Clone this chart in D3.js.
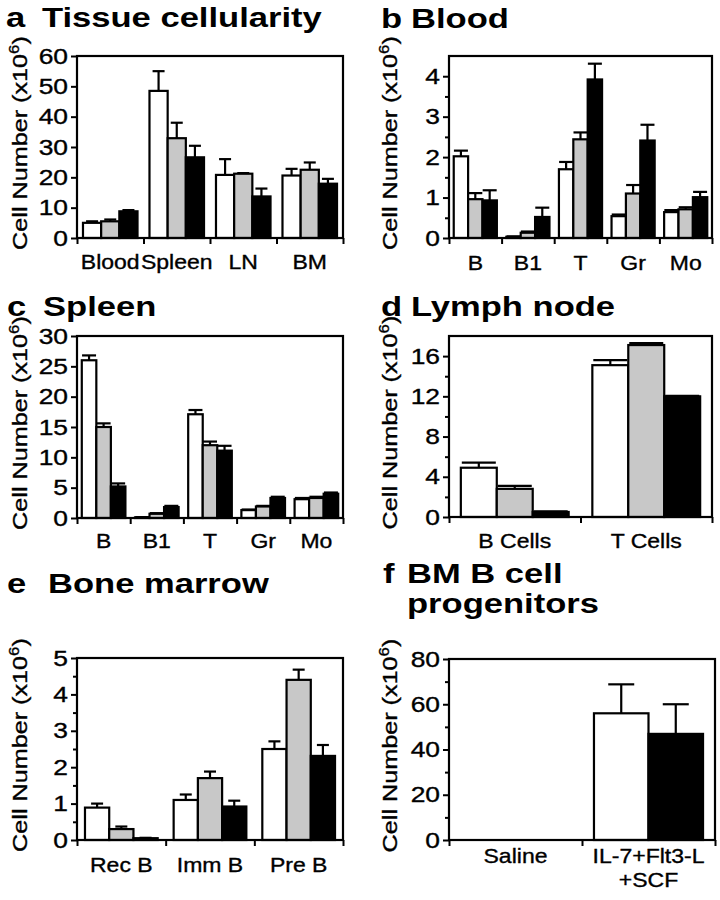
<!DOCTYPE html>
<html>
<head>
<meta charset="utf-8">
<script src="https://cdn.jsdelivr.net/npm/d3@7"></script>
<style>
  html, body { margin: 0; padding: 0; background: #fff; }
  svg { display: block; font-family: "Liberation Sans", Arial, Helvetica, sans-serif; }
  .thick { stroke: #000; stroke-width: 0.35px; }
</style>
</head>
<body>
<div id="app"></div>
<script>
// --- data (mean, upward SEM) ---
// series order: white, gray, black
const tissueCats = ["Blood", "Spleen", "LN", "BM"];
const tissueMean = [[5.0, 5.5, 8.8], [48.5, 32.9, 26.6], [20.8, 21.2, 13.7], [20.6, 22.5, 17.9]];
const tissueErr  = [[0.5, 0.6, 0.4], [6.5, 5.1, 3.8], [5.2, 0.2, 2.6], [2.2, 2.4, 1.6]];
const tissueTicks = [0, 10, 20, 30, 40, 50, 60];

const bloodCats = ["B", "B1", "T", "Gr", "Mo"];
const bloodMean = [[2.02, 0.96, 0.93], [0.03, 0.13, 0.52], [1.70, 2.44, 3.92], [0.54, 1.10, 2.41], [0.64, 0.71, 1.01]];
const bloodErr  = [[0.14, 0.15, 0.25], [0.01, 0.03, 0.23], [0.18, 0.17, 0.39], [0.04, 0.21, 0.39], [0.05, 0.05, 0.13]];
const bloodTicks = [0, 1, 2, 3, 4];
const bloodMinor = [0.5, 1.5, 2.5, 3.5];

const spleenCats = ["B", "B1", "T", "Gr", "Mo"];
const spleenMean = [[26.0, 15.0, 5.2], [0.1, 0.7, 1.8], [17.1, 12.0, 11.1], [1.3, 1.9, 3.3], [3.1, 3.3, 4.0]];
const spleenErr  = [[0.8, 0.6, 0.5], [0.05, 0.1, 0.2], [0.7, 0.6, 0.8], [0.1, 0.1, 0.2], [0.2, 0.2, 0.2]];
const spleenTicks = [0, 5, 10, 15, 20, 25, 30];

const lymphCats = ["B Cells", "T Cells"];
const lymphMean = [[4.9, 2.8, 0.5], [15.1, 17.1, 12.0]];
const lymphErr  = [[0.5, 0.3, 0.05], [0.5, 0.2, 0.05]];
const lymphTicks = [0, 4, 8, 12, 16];
const lymphMinor = [2, 6, 10, 14];

const marrowCats = ["Rec B", "Imm B", "Pre B"];
const marrowMean = [[0.89, 0.30, 0.05], [1.10, 1.70, 0.92], [2.50, 4.40, 2.31]];
const marrowErr  = [[0.11, 0.07, 0.01], [0.15, 0.18, 0.16], [0.21, 0.28, 0.30]];
const marrowTicks = [0, 1, 2, 3, 4, 5];
const marrowMinor = [0.5, 1.5, 2.5, 3.5, 4.5];

// panel f only has the white and black groups
const progCats = [["Saline"], ["IL-7+Flt3-L", "+SCF"]];
const progMean = [[null, null], [56.0, 46.9]];
const progErr  = [[null, null], [12.8, 13.1]];
const progTicks = [0, 20, 40, 60, 80];
const progMinor = [10, 30, 50, 70];

const width = 720;
const height = 900;
const fills = ["#ffffff", "#c8c8c8", "#000000"];

const svg = d3.select('#app')
  .append('svg')
  .attr('width', width)
  .attr('height', height)
  .attr('viewBox', `0 0 ${width} ${height}`);

const panels = [
  { letter: "a", title: ["Tissue cellularity"], cats: tissueCats.map(d => [d]), mean: tissueMean, err: tissueErr,
    max: 60, ticks: tissueTicks, minor: [], fills: [0, 1, 2],
    x0: 77, x1: 343, y0: 56, y1: 238, lx: 6, tx: 42, ty: 27, labY: 269, cap: 12, ylx: 27 },
  { letter: "b", title: ["Blood"], cats: bloodCats.map(d => [d]), mean: bloodMean, err: bloodErr,
    max: 4.5, ticks: bloodTicks, minor: bloodMinor, fills: [0, 1, 2],
    x0: 449, x1: 712, y0: 56, y1: 238, lx: 381, tx: 411, ty: 28, labY: 270, cap: 14, ylx: 397 },
  { letter: "c", title: ["Spleen"], cats: spleenCats.map(d => [d]), mean: spleenMean, err: spleenErr,
    max: 30, ticks: spleenTicks, minor: [], fills: [0, 1, 2],
    x0: 77, x1: 343, y0: 336, y1: 518, lx: 7, tx: 43, ty: 316, labY: 548, cap: 14, ylx: 27 },
  { letter: "d", title: ["Lymph node"], cats: lymphCats.map(d => [d]), mean: lymphMean, err: lymphErr,
    max: 18, ticks: lymphTicks, minor: lymphMinor, fills: [0, 1, 2],
    x0: 449, x1: 712, y0: 336, y1: 517, lx: 381, tx: 411, ty: 316, labY: 548, cap: 34, ylx: 397 },
  { letter: "e", title: ["Bone marrow"], cats: marrowCats.map(d => [d]), mean: marrowMean, err: marrowErr,
    max: 5, ticks: marrowTicks, minor: marrowMinor, fills: [0, 1, 2],
    x0: 77, x1: 343, y0: 658, y1: 840, lx: 7, tx: 48, ty: 593, labY: 872, cap: 12, ylx: 27 },
  { letter: "f", title: ["BM B cell", "progenitors"], cats: progCats, mean: progMean, err: progErr,
    max: 80, ticks: progTicks, minor: progMinor, fills: [0, 2],
    x0: 449, x1: 715, y0: 659, y1: 840, lx: 383, tx: 407, ty: 583, labY: 863, cap: 26, ylx: 397 }
];

const TITLE_SX = 1.28, TICK_SX = 1.2, LAB_SX = 1.15, YLAB_SX = 1.2;

function drawPanel(p) {
  const g = svg.append('g');

  // title
  g.append('text')
    .attr('transform', `translate(${p.lx},${p.ty}) scale(${TITLE_SX},1)`)
    .attr('font-size', 27).attr('font-weight', 'bold')
    .text(p.letter);
  p.title.forEach((t, i) => {
    g.append('text')
      .attr('transform', `translate(${p.tx},${p.ty + i * 30}) scale(${TITLE_SX},1)`)
      .attr('font-size', 27).attr('font-weight', 'bold')
      .text(t);
  });

  const y = d3.scaleLinear().domain([0, p.max]).range([p.y1, p.y0]);
  const xb = d3.scaleBand().domain(d3.range(p.cats.length)).range([p.x0, p.x1]).padding(0);
  const inner = d3.scaleBand().domain(d3.range(p.fills.length))
    .range([0, xb.bandwidth()]).paddingInner(0).paddingOuter(0.09 * p.fills.length / (1 - 0.18));

  // bars
  p.mean.forEach((row, ci) => {
    row.forEach((v, si) => {
      if (v == null) return;
      const bx = xb(ci) + inner(si);
      g.append('rect')
        .attr('x', bx).attr('y', y(v))
        .attr('width', inner.bandwidth()).attr('height', y(0) - y(v))
        .attr('fill', fills[p.fills[si]])
        .attr('stroke', '#000').attr('stroke-width', 2.2);
    });
  });

  // error bars (upward only)
  p.err.forEach((row, ci) => {
    row.forEach((e, si) => {
      const v = p.mean[ci][si];
      if (e == null || v == null) return;
      const cx = xb(ci) + inner(si) + inner.bandwidth() / 2;
      const top = y(v + e);
      g.append('line').attr('x1', cx).attr('x2', cx).attr('y1', y(v)).attr('y2', top)
        .attr('stroke', '#000').attr('stroke-width', 2.2);
      g.append('line').attr('x1', cx - p.cap / 2).attr('x2', cx + p.cap / 2).attr('y1', top).attr('y2', top)
        .attr('stroke', '#000').attr('stroke-width', 2.2);
    });
  });

  // frame
  g.append('rect')
    .attr('x', p.x0).attr('y', p.y0)
    .attr('width', p.x1 - p.x0).attr('height', p.y1 - p.y0)
    .attr('fill', 'none').attr('stroke', '#000').attr('stroke-width', 2.2);

  // y axis
  const ya = g.append('g').attr('transform', `translate(${p.x0},0)`)
    .call(d3.axisLeft(y).tickValues(p.ticks).tickSize(6).tickPadding(3).tickFormat(d3.format('')));
  ya.select('.domain').remove();
  ya.attr('font-size', 22).attr('font-family', null);
  ya.selectAll('.tick line').attr('stroke-width', 2);
  ya.selectAll('.tick text').attr('x', -9 / TICK_SX).attr('transform', `scale(${TICK_SX},1)`)
    .attr('fill', '#000').attr('class', 'thick');

  if (p.minor.length) {
    const ym = g.append('g').attr('transform', `translate(${p.x0},0)`)
      .call(d3.axisLeft(y).tickValues(p.minor).tickSize(4).tickFormat(''));
    ym.select('.domain').remove();
    ym.selectAll('.tick line').attr('stroke-width', 2);
  }

  // x axis: ticks at group boundaries
  const xl = d3.scaleLinear().domain([0, p.cats.length]).range([p.x0, p.x1]);
  const xa = g.append('g').attr('transform', `translate(0,${p.y1})`)
    .call(d3.axisBottom(xl).tickValues(d3.range(p.cats.length + 1)).tickSize(6).tickFormat(''));
  xa.select('.domain').remove();
  xa.selectAll('.tick line').attr('stroke-width', 2);

  // category labels
  p.cats.forEach((lines, ci) => {
    const cx = xb(ci) + xb.bandwidth() / 2;
    lines.forEach((t, li) => {
      g.append('text')
        .attr('class', 'thick')
        .attr('transform', `translate(${cx},${p.labY + li * 24}) scale(${LAB_SX},1)`)
        .attr('text-anchor', 'middle').attr('font-size', 20)
        .text(t);
    });
  });

  // y label
  const yl = g.append('text')
    .attr('class', 'thick')
    .attr('transform', `translate(${p.ylx},${(p.y0 + p.y1) / 2 - 4}) rotate(-90) scale(${YLAB_SX},1)`)
    .attr('text-anchor', 'middle').attr('font-size', 21);
  yl.append('tspan').text('Cell Number (x10');
  yl.append('tspan').attr('font-size', 14).attr('dy', -8).text('6');
  yl.append('tspan').attr('dy', 8).text(')');
}

panels.forEach(drawPanel);
</script>
</body>
</html>
